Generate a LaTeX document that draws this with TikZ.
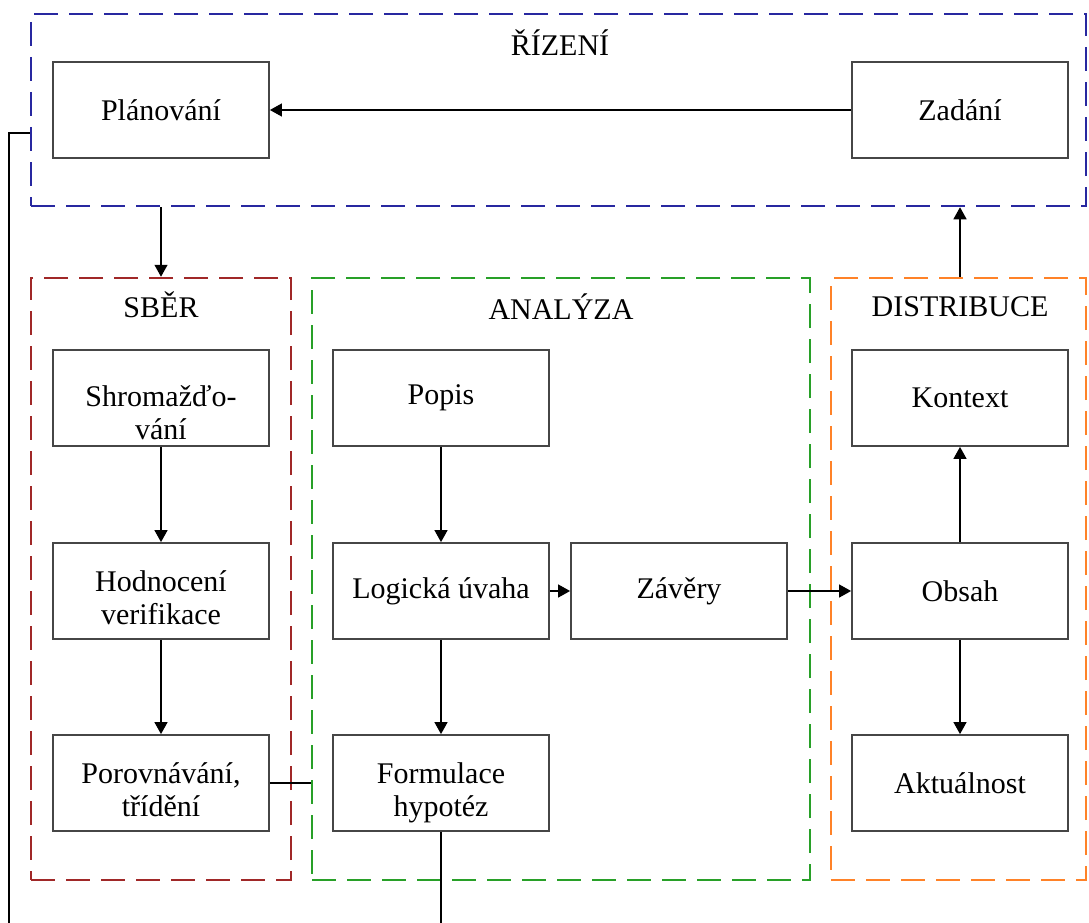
\documentclass[tikz,border=0pt]{standalone}
\usepackage{fontspec}
\setmainfont{Liberation Serif}
\usetikzlibrary{arrows.meta}
\definecolor{cblue}{RGB}{40,40,160}
\definecolor{cred}{RGB}{160,40,40}
\definecolor{cgreen}{RGB}{40,160,40}
\definecolor{corange}{RGB}{255,130,40}
\definecolor{cgray}{RGB}{70,70,70}
\newcommand\twoline[2]{\raisebox{#1}[\height][\depth]{\begin{tabular}{@{}c@{}}#2\end{tabular}}}
\tikzset{
  box/.style={draw=cgray, line width=1.8pt, minimum width=216pt, minimum height=96pt, align=center, inner sep=0pt, font=\fontsize{30}{33}\selectfont},
  grp/.style={draw=#1, line width=2.5pt, dash pattern=on 24pt off 11pt, inner sep=0pt},
  lbl/.style={font=\fontsize{30}{32}\selectfont, inner sep=0pt},
  arr/.style={line width=1.3pt, -{Triangle[length=12pt,width=13pt]}},
  ln/.style={line width=1.3pt}
}
\begin{document}
\begin{tikzpicture}[x=1pt,y=-1pt]
\useasboundingbox (0,0) rectangle (1089,923);
% group boxes
\node[grp=cblue, minimum width=1055pt, minimum height=192pt] (riz) at (558.5,110) {};
\node[grp=cred, minimum width=260pt, minimum height=602pt] (sber) at (161,579) {};
\node[grp=cgreen, minimum width=498pt, minimum height=602pt] (anal) at (561,579) {};
\node[grp=corange, minimum width=255pt, minimum height=602pt] (dist) at (958.5,579) {};
% labels
\node[lbl] (lriz) at (560,43) {ŘÍZENÍ};
\node[lbl] (lsber) at (161,305) {SBĚR};
\node[lbl] (lanal) at (561,307) {ANALÝZA};
\node[lbl] (ldist) at (960,307) {DISTRIBUCE};
% boxes
\node[box] (plan) at (161,110) {Plánování};
\node[box] (zad) at (960,110) {Zadání};
\node[box] (shrom) at (161,398) {\twoline{-18pt}{Shromažďo-\\vání}};
\node[box] (hod) at (161,591) {\twoline{-10pt}{Hodnocení\\verifikace}};
\node[box] (por) at (161,783) {\twoline{-10pt}{Porovnávání,\\třídění}};
\node[box] (popis) at (441,398) {Popis};
\node[box] (log) at (441,591) {Logická úvaha};
\node[box] (form) at (441,783) {\twoline{-10pt}{Formulace\\hypotéz}};
\node[box] (zav) at (679,591) {Závěry};
\node[box] (kon) at (960,398) {Kontext};
\node[box] (obs) at (960,591) {Obsah};
\node[box] (akt) at (960,783) {Aktuálnost};
% coordinates
\coordinate (lt) at (9,133);
\coordinate (bot) at (0,923);
% connectors
\draw[arr] (zad) -- (plan);
\draw[arr] (riz.south -| plan) -- (sber.north);
\draw[arr] (dist.north -| obs) -- (riz.south -| obs);
\draw[ln] (riz.west |- lt) -- (lt) -- (lt |- bot);
\draw[arr] (shrom) -- (hod);
\draw[arr] (hod) -- (por);
\draw[ln] (por.east) -- (anal.west |- por.east);
\draw[arr] (popis) -- (log);
\draw[arr] (log) -- (form);
\draw[arr] (log) -- (zav);
\draw[arr] (zav) -- (obs);
\draw[arr] (obs) -- (kon);
\draw[arr] (obs) -- (akt);
\draw[ln] (form.south) -- (form.south |- bot);
\end{tikzpicture}
\end{document}
